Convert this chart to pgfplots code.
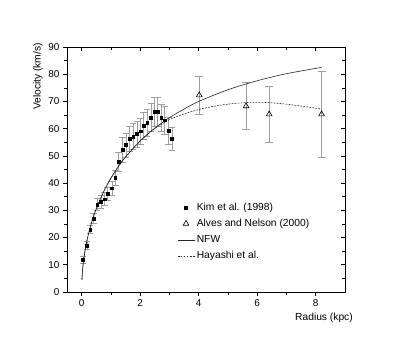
\documentclass[border=0pt]{standalone}
\usepackage{pgfplots}
\pgfplotsset{compat=1.18}
\usepackage{pgfplotstable}
\usepackage{fontspec}
\setmainfont{Liberation Sans}

\pgfplotstableread{
r v e
0.05 12.0 1.3
0.18 17.1 1.5
0.29 23.0 1.6
0.41 27.0 1.8
0.53 32.2 2.3
0.66 33.2 2.3
0.79 34.1 2.4
0.89 36.1 2.5
1.03 38.1 2.6
1.15 42.1 2.8
1.26 48.0 3.5
1.39 52.2 4.5
1.51 54.0 4.5
1.64 56.2 4.6
1.76 57.1 4.8
1.89 58.1 4.8
2.02 59.1 4.9
2.12 61.1 5.0
2.24 62.3 5.0
2.37 64.1 5.2
2.49 66.2 5.2
2.60 66.2 5.2
2.72 64.1 5.0
2.84 63.1 5.0
2.97 59.2 5.0
3.09 56.2 4.3
}\kimdata

\pgfplotstableread{
r v e
4.02 72.3 7.0
5.62 68.3 8.7
6.41 65.3 10.4
8.20 65.3 15.7
}\alvesdata

\pgfplotstableread{
r v
0.01 4.5
0.03 7.8
0.05 10.0
0.10 14.1
0.15 17.2
0.20 19.8
0.30 24.0
0.40 27.6
0.50 30.6
0.75 36.8
1.00 41.8
1.25 46.0
1.50 49.6
2.00 55.5
2.50 60.2
3.00 64.0
3.50 67.2
4.00 70.0
5.00 74.3
6.00 77.6
7.00 80.2
8.20 82.5
}\nfwdata

\pgfplotstableread{
r v
0.01 4.5
0.03 7.8
0.05 10.0
0.10 14.1
0.15 17.2
0.20 19.8
0.30 24.0
0.40 27.6
0.50 30.6
0.75 36.8
1.00 41.8
1.25 46.0
1.50 49.6
2.00 55.5
2.50 60.0
3.00 63.3
3.50 65.4
4.00 67.0
4.50 68.2
5.00 69.0
5.50 69.5
6.00 69.7
6.50 69.5
7.00 69.0
7.50 68.3
8.20 67.2
}\hayashidata

\begin{document}
\begin{tikzpicture}
\path[use as bounding box] (-67bp,-57bp) rectangle (331bp,292bp);
\begin{axis}[
  name=main,
  at={(0,0)}, anchor=south west,
  scale only axis, width=278bp, height=245bp,
  xmin=-0.5, xmax=9, ymin=0, ymax=90,
  xtick={0,2,4,6,8}, ytick={0,10,...,90},
  minor x tick num=1, minor y tick num=1,
  xtick pos=left, ytick pos=left,
  tick align=outside,
  major tick length=4bp, minor tick length=2.5bp,
  tick style={black, line width=0.6bp},
  axis line style={black, line width=0.8bp},
  tick label style={font=\fontsize{10}{12}\selectfont},
  /pgf/number format/assume math mode=true,
  legend cell align=left,
  legend style={at={(axis cs:3.26,33.1)}, anchor=north west, draw=none, fill=none,
    inner sep=0pt, row sep=5.8bp, column sep=2bp,
    nodes={inner sep=0pt, text height=8bp, text depth=2.5bp},
    font=\fontsize{10.3}{12}\selectfont},
]
\addplot[only marks, mark=square*, mark size=1.4bp, mark options={black, fill=black},
  error bars/.cd, y dir=both, y explicit,
  error bar style={gray!75, line width=0.5bp},
  error mark options={rotate=90, mark size=3.3bp, gray!75, line width=0.5bp}]
  table[x=r, y=v, y error=e] {\kimdata};
\addlegendentry{Kim et al. (1998)}

\addplot[only marks, mark=triangle, mark size=3.3bp, mark options={black, fill=white, line width=0.6bp},
  error bars/.cd, y dir=both, y explicit,
  error bar style={gray!75, line width=0.7bp},
  error mark options={rotate=90, mark size=4bp, gray!75, line width=0.6bp}]
  table[x=r, y=v, y error=e] {\alvesdata};
\addlegendentry{Alves and Nelson (2000)}

\addplot[black!85, line width=0.6bp, smooth, mark=none] table[x=r, y=v] {\nfwdata};
\addlegendentry{NFW}

\addplot[black!85, line width=0.6bp, smooth, mark=none, dash pattern=on 1.8bp off 1.2bp] table[x=r, y=v] {\hayashidata};
\addlegendentry{Hayashi et al.}
\end{axis}
\begin{axis}[
  at={(0,0)}, anchor=south west,
  scale only axis, width=278bp, height=245bp,
  xmin=-0.5, xmax=9, ymin=0, ymax=90,
  xtick={0,2,4,6,8}, ytick={0,10,...,90},
  minor x tick num=1, minor y tick num=1,
  xtick pos=right, ytick pos=right,
  tick align=inside,
  xticklabels={}, yticklabels={},
  major tick length=4bp, minor tick length=2.5bp,
  tick style={black, line width=0.6bp},
  axis line style={black, line width=0.8bp},
]
\end{axis}
\node[rotate=90, anchor=east, inner sep=0pt, font=\fontsize{10.3}{12}\selectfont]
  at ([xshift=-29bp, yshift=4bp]main.north west) {Velocity (km/s)};
\node[anchor=east, inner sep=0pt, font=\fontsize{10.3}{12}\selectfont]
  at ([xshift=8bp, yshift=-26bp]main.south east) {Radius (kpc)};
\end{tikzpicture}
\end{document}
